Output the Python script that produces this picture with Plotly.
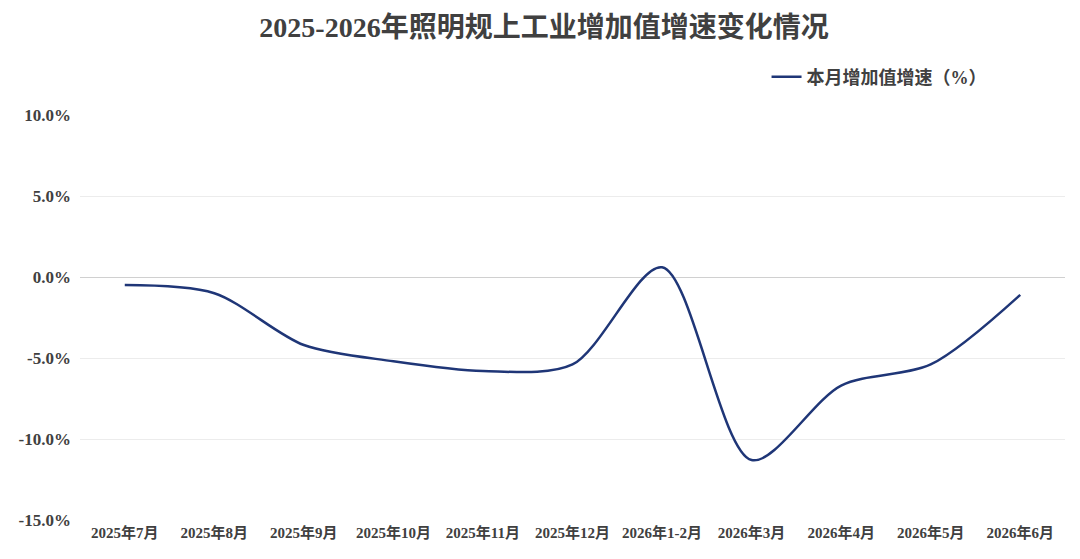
import plotly.graph_objects as go

months = ["2025年7月", "2025年8月", "2025年9月", "2025年10月", "2025年11月", "2025年12月",
          "2026年1-2月", "2026年3月", "2026年4月", "2026年5月", "2026年6月"]
growth = [-0.5, -1.0, -4.2, -5.2, -5.8, -5.4, 0.6, -11.3, -6.7, -5.4, -1.1]
y_ticks = [-15, -10, -5, 0, 5, 10]
y_labels = [f"{v:.1f}%" for v in y_ticks]

font_family = "Liberation Serif, Noto Sans CJK SC, serif"
text_color = "#404040"

fig = go.Figure()

fig.add_trace(go.Scatter(
    x=months, y=growth,
    mode="lines",
    name="本月增加值增速（%）",
    line=dict(color="#1f3677", width=2.5, shape="spline", smoothing=0.85),
))

# page has 8px body margin, so figure is a bit smaller than the window
fig.update_layout(
    width=1072, height=551,
    title=dict(text="2025-2026年照明规上工业增加值增速变化情况",
               x=0.5, xanchor="center", y=0.965, yanchor="middle",
               font=dict(size=28, color=text_color, family=font_family, weight=700)),
    margin=dict(l=72, r=15, t=107, b=39),
    plot_bgcolor="white", paper_bgcolor="white",
    showlegend=True,
    legend=dict(orientation="h", x=0.697, y=1.094, xanchor="left", yanchor="middle",
                font=dict(size=18, color=text_color, family=font_family, weight=700),
                itemwidth=30),
    xaxis=dict(showgrid=False, showline=False, zeroline=False, ticks="",
               range=[-0.5, 10.5],
               tickfont=dict(size=15, color=text_color, family=font_family, weight=700),
               ticklabelstandoff=2),
    yaxis=dict(range=[-15, 10], tickvals=y_ticks, ticktext=y_labels,
               showgrid=True, gridcolor="#ececec", gridwidth=1,
               zeroline=True, zerolinecolor="#d0d0d0", zerolinewidth=1,
               showline=False, ticks="", ticklabelstandoff=8,
               tickfont=dict(size=17, color=text_color, family=font_family, weight=700)),
)

fig.write_html("out.html")
